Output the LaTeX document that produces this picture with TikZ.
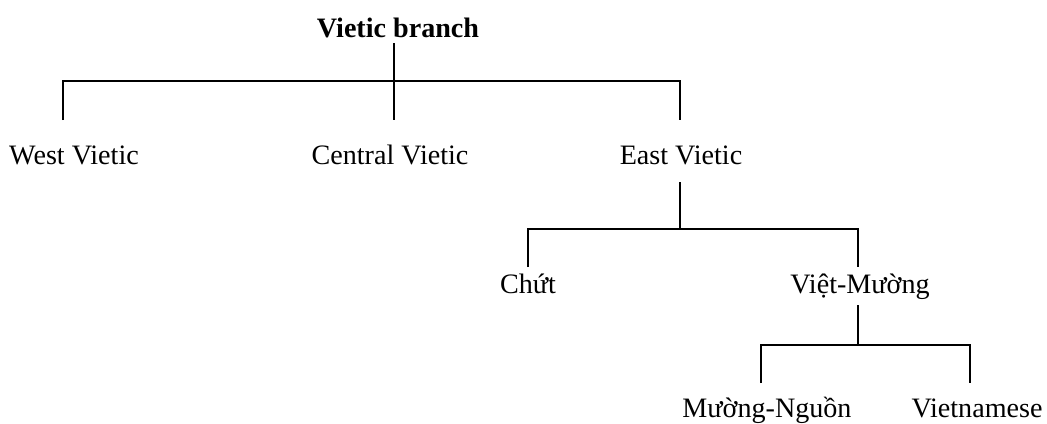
\documentclass[tikz,border=0pt]{standalone}
\usepackage{fontspec}
\setmainfont{Liberation Serif}
\usetikzlibrary{positioning}

\begin{document}
\begin{tikzpicture}[x=0.02cm, y=-0.02cm,
  font=\fontsize{16}{19}\selectfont,
  lang/.style={inner sep=0pt, anchor=base},
  branch/.style={line width=0.8pt}]
  \useasboundingbox (0,0) rectangle (1047,423);
  % top level
  \node[lang, font=\fontsize{16}{19}\selectfont\bfseries] (vietic) at (398,37) {Vietic branch};
  \node[lang] (west) at (74,164) {West Vietic};
  \node[lang] (central) at (390,164) {Central Vietic};
  \node[lang] (east) at (681,164) {East Vietic};
  \coordinate (j1) at (394,81);
  \draw[branch] ([shift={(-4,6)}]vietic.base) -- ([shift={(4,-44)}]central.base);
  \draw[branch] ([shift={(-11,-44)}]west.base) |- (j1) -| ([shift={(-1,-44)}]east.base);
  % East Vietic
  \node[lang] (chut) at (528,293) {Chứt};
  \node[lang] (vietmuong) at (860,293) {Việt-Mường};
  \coordinate (j2) at (680,229);
  \draw[branch] ([shift={(-1,18)}]east.base) -- (j2);
  \draw[branch] ([shift={(0,-26)}]chut.base) |- (j2) -| ([shift={(-2,-26)}]vietmuong.base);
  % Viet-Muong
  \node[lang] (muongnguon) at (767,417) {Mường-Nguồn};
  \node[lang] (vietnamese) at (977,417) {Vietnamese};
  \coordinate (j3) at (858,345);
  \draw[branch] ([shift={(-2,12)}]vietmuong.base) -- (j3);
  \draw[branch] ([shift={(-6,-34)}]muongnguon.base) |- (j3) -| ([shift={(-7,-34)}]vietnamese.base);
\end{tikzpicture}
\end{document}
